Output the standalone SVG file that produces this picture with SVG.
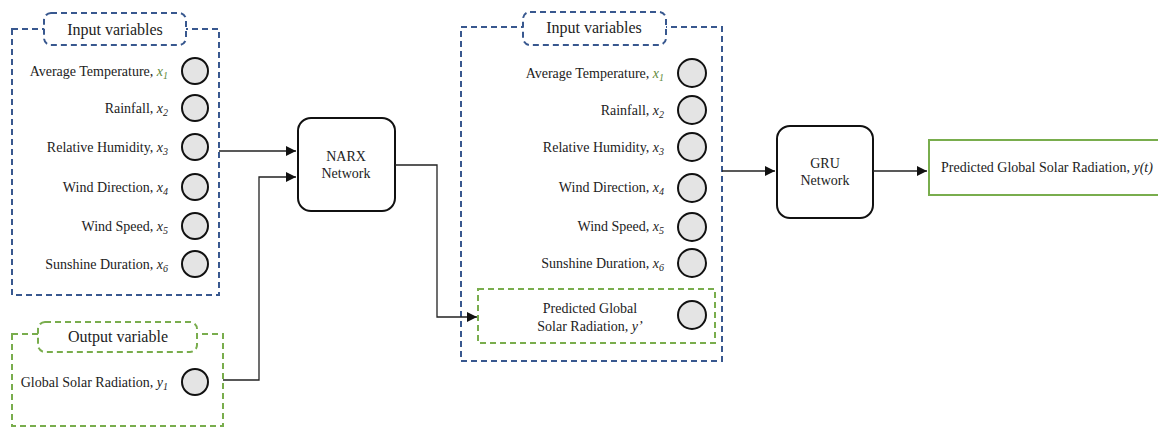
<svg xmlns="http://www.w3.org/2000/svg" width="1158" height="430" viewBox="0 0 1158 430" font-family="'Liberation Serif', 'Times New Roman', serif">
  <style>
    text { font-family: "Liberation Serif", "Times New Roman", serif; fill: #222; }
    .lbl { font-size: 14px; text-anchor: end; }
    .ttl { font-size: 16px; text-anchor: middle; }
    .net { font-size: 14px; text-anchor: middle; }
    .v { font-style: italic; }
    .sub { font-size: 10px; font-style: italic; }
    .g { fill: #5f8a3c; }
    .blue { fill: none; stroke: #38588f; stroke-width: 2; stroke-dasharray: 6 4; }
    .green { fill: none; stroke: #79ad4d; stroke-width: 2; stroke-dasharray: 6 4; }
    .tabb { fill: #fff; stroke: #38588f; stroke-width: 2; stroke-dasharray: 6 4; }
    .tabg { fill: #fff; stroke: #79ad4d; stroke-width: 2; stroke-dasharray: 6 4; }
    .node { fill: #e4e4e4; stroke: #111; stroke-width: 2; }
    .box { fill: #fff; stroke: #111; stroke-width: 2; }
    .wire { fill: none; stroke: #222; stroke-width: 1.3; }
  </style>
  <defs>
    <marker id="arrow" viewBox="0 0 10 10" refX="10" refY="5" markerWidth="10" markerHeight="10" markerUnits="userSpaceOnUse" orient="auto">
      <path d="M0,0 L10,5 L0,10 z" fill="#111"/>
    </marker>
  </defs>

  <rect width="1158" height="430" fill="#fff"/>

  <!-- Left input variables group -->
  <g id="input-left">
    <rect class="blue" x="12" y="29" width="207" height="266"/>
    <rect class="tabb" x="44" y="13" width="142" height="32" rx="7"/>
    <text class="ttl" x="115" y="35">Input variables</text>
    <text class="lbl" x="168" y="76">Average Temperature, <tspan class="v g">x</tspan><tspan class="sub g" dy="3">1</tspan></text>
    <circle class="node" cx="195" cy="71" r="13"/>
    <text class="lbl" x="168" y="113">Rainfall, <tspan class="v">x</tspan><tspan class="sub" dy="3">2</tspan></text>
    <circle class="node" cx="195" cy="108" r="13"/>
    <text class="lbl" x="168" y="152">Relative Humidity, <tspan class="v">x</tspan><tspan class="sub" dy="3">3</tspan></text>
    <circle class="node" cx="195" cy="147" r="13"/>
    <text class="lbl" x="168" y="192">Wind Direction, <tspan class="v">x</tspan><tspan class="sub" dy="3">4</tspan></text>
    <circle class="node" cx="195" cy="187" r="13"/>
    <text class="lbl" x="168" y="231">Wind Speed, <tspan class="v">x</tspan><tspan class="sub" dy="3">5</tspan></text>
    <circle class="node" cx="195" cy="226" r="13"/>
    <text class="lbl" x="168" y="269">Sunshine Duration, <tspan class="v">x</tspan><tspan class="sub" dy="3">6</tspan></text>
    <circle class="node" cx="195" cy="264" r="13"/>
  </g>

  <!-- Output variable group -->
  <g id="output-left">
    <rect class="green" x="12" y="334" width="211" height="92"/>
    <rect class="tabg" x="38" y="322" width="159" height="30" rx="7"/>
    <text class="ttl" x="118" y="342">Output variable</text>
    <text class="lbl" x="168" y="387">Global Solar Radiation, <tspan class="v">y</tspan><tspan class="sub" dy="3">1</tspan></text>
    <circle class="node" cx="195" cy="382" r="13"/>
  </g>

  <!-- NARX network -->
  <g id="narx">
    <rect class="box" x="298" y="118" width="97" height="93" rx="13"/>
    <text class="net" x="346" y="161">NARX</text>
    <text class="net" x="346" y="178">Network</text>
  </g>

  <!-- Middle input variables group -->
  <g id="input-mid">
    <rect class="blue" x="461" y="27" width="261" height="334"/>
    <rect class="tabb" x="523" y="12" width="143" height="33" rx="7"/>
    <text class="ttl" x="594" y="33">Input variables</text>
    <text class="lbl" x="664" y="78">Average Temperature, <tspan class="v g">x</tspan><tspan class="sub g" dy="3">1</tspan></text>
    <circle class="node" cx="692" cy="73" r="14"/>
    <text class="lbl" x="664" y="115">Rainfall, <tspan class="v">x</tspan><tspan class="sub" dy="3">2</tspan></text>
    <circle class="node" cx="692" cy="110" r="14"/>
    <text class="lbl" x="664" y="152">Relative Humidity, <tspan class="v">x</tspan><tspan class="sub" dy="3">3</tspan></text>
    <circle class="node" cx="692" cy="147" r="14"/>
    <text class="lbl" x="664" y="192">Wind Direction, <tspan class="v">x</tspan><tspan class="sub" dy="3">4</tspan></text>
    <circle class="node" cx="692" cy="188" r="14"/>
    <text class="lbl" x="664" y="231">Wind Speed, <tspan class="v">x</tspan><tspan class="sub" dy="3">5</tspan></text>
    <circle class="node" cx="692" cy="227" r="14"/>
    <text class="lbl" x="664" y="268">Sunshine Duration, <tspan class="v">x</tspan><tspan class="sub" dy="3">6</tspan></text>
    <circle class="node" cx="692" cy="263" r="14"/>
  </g>

  <!-- Predicted y' inside the middle group -->
  <g id="predicted-prime">
    <rect class="green" x="478" y="289" width="237" height="54"/>
    <text class="net" x="590" y="313">Predicted Global</text>
    <text class="net" x="590" y="331">Solar Radiation, <tspan class="v">y’</tspan></text>
    <circle class="node" cx="692" cy="315" r="14"/>
  </g>

  <!-- GRU network -->
  <g id="gru">
    <rect class="box" x="777" y="126" width="96" height="92" rx="13"/>
    <text class="net" x="825" y="168">GRU</text>
    <text class="net" x="825" y="185">Network</text>
  </g>

  <!-- Final output -->
  <g id="output-final">
    <rect x="929" y="140" width="240" height="55" fill="#fff" stroke="#79ad4d" stroke-width="2"/>
    <text x="941" y="172" font-size="14">Predicted Global Solar Radiation, <tspan class="v">y(t)</tspan></text>
  </g>

  <!-- Connectors -->
  <g id="connectors">
    <path class="wire" d="M219,151 H296" marker-end="url(#arrow)"/>
    <path class="wire" d="M223,380 H259 V177 H296" marker-end="url(#arrow)"/>
    <path class="wire" d="M395,165 H437 V317 H477" marker-end="url(#arrow)"/>
    <path class="wire" d="M722,171 H775" marker-end="url(#arrow)"/>
    <path class="wire" d="M873,171 H927" marker-end="url(#arrow)"/>
  </g>
</svg>
